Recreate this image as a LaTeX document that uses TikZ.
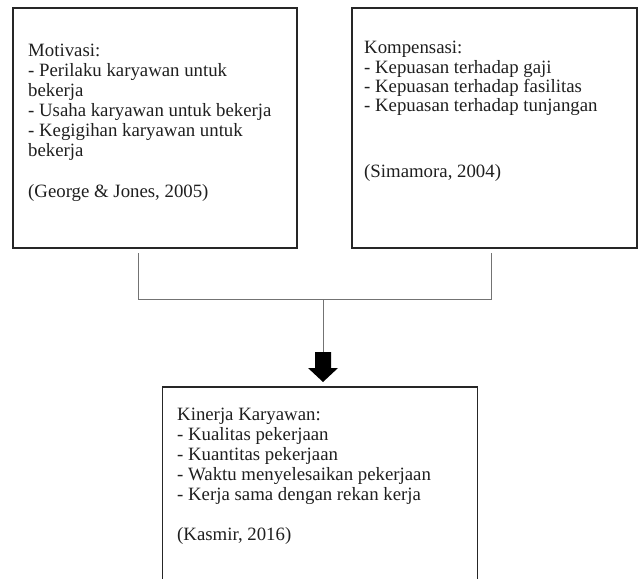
\documentclass[tikz,border=0pt]{standalone}
\usepackage{fontspec}
\setmainfont{Liberation Serif}
\begin{document}
\begin{tikzpicture}[x=1bp,y=-1bp,
  boxline/.style={draw=black!85,line width=1.3bp},
  conn/.style={draw=black!55,line width=1bp},
  txt/.style={anchor=base west,inner sep=0pt,text=black!88,font=\fontsize{18.8bp}{20bp}\selectfont},
  txtb/.style={anchor=base west,inner sep=0pt,text=black!88,font=\fontsize{18.8bp}{19.3bp}\selectfont}]
\useasboundingbox (0,0) rectangle (639,579);
% boxes
\path[boxline] (13,8) rectangle (297,248);
\node[inner sep=0pt,minimum width=284bp,minimum height=240bp] (mot) at (155,128) {};
\path[boxline] (352,8) rectangle (637,248);
\node[inner sep=0pt,minimum width=285bp,minimum height=240bp] (kom) at (494.5,128) {};
\node[inner sep=0pt,minimum width=314bp,minimum height=200bp,anchor=north] (kin) at (320,387) {};
\draw[boxline] (kin.south west) -- (kin.north west) -- (kin.north east) -- (kin.south east);
% texts
\node[txt] (t1) at (28,57) {\begin{tabular}[t]{@{}l@{}}Motivasi:\\- Perilaku karyawan untuk\\bekerja\\- Usaha karyawan untuk bekerja\\- Kegigihan karyawan untuk\\bekerja\\ \\(George \& Jones, 2005)\end{tabular}};
\node[txtb] (t2) at (364,54) {\begin{tabular}[t]{@{}l@{}}Kompensasi:\\- Kepuasan terhadap gaji\\- Kepuasan terhadap fasilitas\\- Kepuasan terhadap tunjangan\\[46.7bp](Simamora, 2004)\end{tabular}};
\node[txt] (t3) at (177,420.5) {\begin{tabular}[t]{@{}l@{}}Kinerja Karyawan:\\- Kualitas pekerjaan\\- Kuantitas pekerjaan\\- Waktu menyelesaikan pekerjaan\\- Kerja sama dengan rekan kerja\\ \\(Kasmir, 2016)\end{tabular}};
% connectors
\coordinate (a1) at (138,253);
\coordinate (a2) at (491,253);
\coordinate (j) at (323,299);
\coordinate (s) at (323,352);
\draw[conn] (a1) -- (a1 |- j) -- (a2 |- j) -- (a2);
\draw[conn] (j) -- (s);
% block arrow
\fill[black] (315,352) -- (331,352) -- (331,368) -- (338,368) -- (323,382) -- (308,368) -- (315,368) -- cycle;
\end{tikzpicture}
\end{document}
